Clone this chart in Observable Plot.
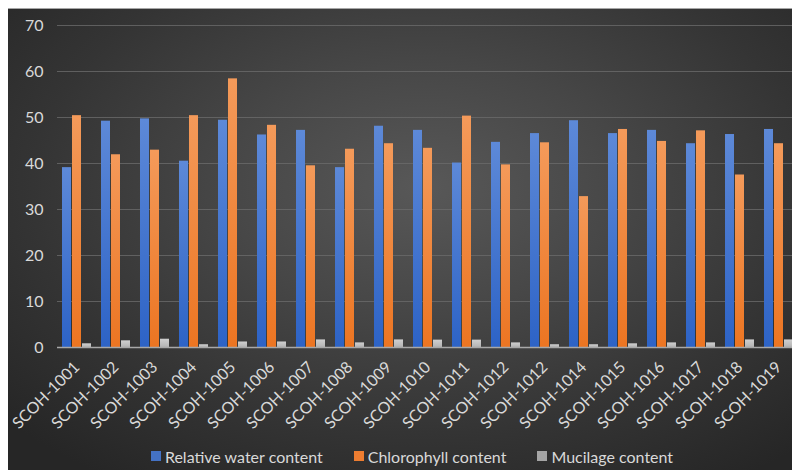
<!DOCTYPE html>
<html>
<head>
<meta charset="utf-8">
<script src="https://cdn.jsdelivr.net/npm/d3@7"></script>
<script src="https://cdn.jsdelivr.net/npm/@observablehq/plot@0.6"></script>
<style>
  html, body { margin: 0; padding: 0; background: #ffffff; overflow: hidden; }
  #chart {
    position: absolute; left: 8px; top: 8px; width: 800px; height: 470px;
    background: radial-gradient(ellipse 70% 75% at 52% 38%, #585858 0%, #474747 35%, #343434 70%, #262626 100%);
    border-top: 1px solid #a6a6a6;
    box-sizing: border-box;
    font-family: Lato, "Open Sans", sans-serif;
  }
  #plot { position: absolute; left: 0; top: -1px; }
  #legend {
    position: absolute; left: 4px; top: 435px; width: 800px; height: 24px;
    display: flex; justify-content: center; align-items: center; gap: 31px;
    color: #d9d9d9; font-size: 16px;
  }
  #legend .item { display: flex; align-items: center; gap: 4px; }
  #legend .sw { width: 10px; height: 10px; display: inline-block; }
</style>
</head>
<body>
<div id="chart"><div id="plot"></div><div id="legend"></div></div>
<script>
const categories = ["SCOH-1001","SCOH-1002","SCOH-1003","SCOH-1004","SCOH-1005","SCOH-1006","SCOH-1007","SCOH-1008","SCOH-1009","SCOH-1010","SCOH-1011","SCOH-1012","SCOH-1012","SCOH-1014","SCOH-1015","SCOH-1016","SCOH-1017","SCOH-1018","SCOH-1019"];
const seriesNames = ["Relative water content", "Chlorophyll content", "Mucilage content"];
const relativeWater = [39.1,49.2,49.7,40.5,49.4,46.2,47.2,39.1,48.1,47.2,40.1,44.6,46.5,49.3,46.5,47.2,44.3,46.3,47.4];
const chlorophyll = [50.4,41.9,42.9,50.4,58.4,48.3,39.5,43.1,44.3,43.3,50.3,39.7,44.5,32.8,47.4,44.8,47.1,37.5,44.3];
const mucilage = [0.8,1.45,1.8,0.6,1.2,1.2,1.65,1.0,1.65,1.6,1.6,1.0,0.6,0.6,0.8,1.0,1.0,1.65,1.65];
const yTicks = [0,10,20,30,40,50,60,70];

const seriesValues = [relativeWater, chlorophyll, mucilage];
const legendColors = ["#4472c4", "#ed7d31", "#a5a5a5"];
const data = [];
categories.forEach((c, i) => {
  seriesNames.forEach((s, k) => data.push({i, series: s, value: seriesValues[k][i]}));
});

const plot = Plot.plot({
  width: 800,
  height: 431,
  marginLeft: 46,
  marginRight: 8,
  marginTop: 17,
  marginBottom: 92,
  style: {background: "transparent", color: "#d9d9d9", fontFamily: "Lato, 'Open Sans', sans-serif", fontSize: "16px"},
  fx: {domain: d3.range(categories.length), padding: 0, tickFormat: i => categories[i], tickRotate: -45, tickSize: 0, tickPadding: 17, label: null},
  x: {domain: seriesNames, paddingInner: 0.11, paddingOuter: 0.37, axis: null},
  y: {domain: [0, 70], ticks: yTicks, tickSize: 0, tickPadding: 14, label: null},
  color: {domain: seriesNames, range: ["url(#gBlue)", "url(#gOrange)", "url(#gGrey)"]},
  marks: [
    Plot.ruleY(yTicks.filter(d => d > 0), {stroke: "#6a6a6a", strokeOpacity: 0.8, strokeWidth: 1}),
    Plot.barY(data, {fx: "i", x: "series", y: "value", fill: "series"}),
    Plot.ruleY([0], {stroke: "#a8a8a8", strokeWidth: 1.6})
  ]
});

const svg = d3.select(plot);
const defs = svg.insert("defs", ":first-child");
function grad(id, top, bottom) {
  const g = defs.append("linearGradient").attr("id", id).attr("x1", 0).attr("y1", 0).attr("x2", 0).attr("y2", 1);
  g.append("stop").attr("offset", "0%").attr("stop-color", top);
  g.append("stop").attr("offset", "100%").attr("stop-color", bottom);
}
grad("gBlue", "#5d89d8", "#2d63c6");
grad("gOrange", "#f49a5a", "#ec7522");
grad("gGrey", "#d0d0d0", "#b4b4b4");
svg.selectAll("text").attr("fill", "#d9d9d9");
document.getElementById("plot").appendChild(plot);

const legend = d3.select("#legend");
seriesNames.forEach((s, k) => {
  const it = legend.append("div").attr("class", "item");
  it.append("span").attr("class", "sw").style("background", legendColors[k]);
  it.append("span").text(s);
});
</script>
</body>
</html>
